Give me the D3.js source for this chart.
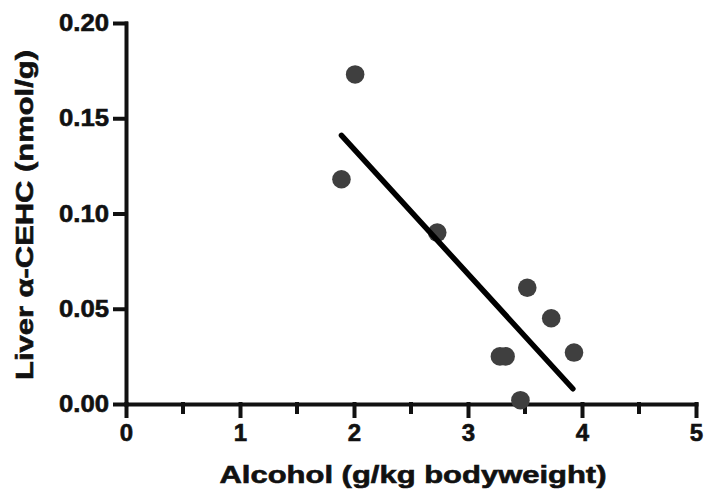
<!DOCTYPE html>
<html>
<head>
<meta charset="utf-8">
<script src="https://cdn.jsdelivr.net/npm/d3@7"></script>
<style>
  body { margin: 0; background: #fff; }
  text { font-family: "Liberation Sans", Arial, sans-serif; font-weight: bold; fill: #111; stroke: #111; stroke-width: 0.6px; }
</style>
</head>
<body>
<div id="chart"></div>
<script>
// data
const alcohol = [1.89, 2.01, 2.73, 3.28, 3.33, 3.46, 3.52, 3.73, 3.93];
const cehc = [0.118, 0.173, 0.090, 0.025, 0.025, 0.002, 0.061, 0.045, 0.027];
const fitX = [1.89, 3.92];
const fitY = [0.141, 0.008];
const xTicks = [0, 1, 2, 3, 4, 5];
const xMinor = [0.5, 1.5, 2.5, 3.5, 4.5];
const yTicks = [0, 0.05, 0.10, 0.15, 0.20];

const w = 715, h = 502;
const margin = { top: 23, right: 19, bottom: 98, left: 126 };

const svg = d3.select('#chart')
    .append('svg')
    .attr('width', w)
    .attr('height', h);

const x = d3.scaleLinear()
    .domain([0, 5])
    .range([margin.left, w - margin.right]);

const y = d3.scaleLinear()
    .domain([0, 0.2])
    .range([h - margin.bottom, margin.top]);

// x axis
const xAxis = svg.append('g')
    .attr('transform', `translate(0,${y(0)})`)
    .call(d3.axisBottom(x).tickValues(xTicks).tickFormat(d3.format('d')).tickSize(12).tickPadding(8).tickSizeOuter(0));

xAxis.append('g').selectAll('line')
    .data(xMinor)
    .enter()
    .append('line')
    .attr('x1', d => x(d))
    .attr('x2', d => x(d))
    .attr('y1', 0)
    .attr('y2', 8);

// y axis
const yAxis = svg.append('g')
    .attr('transform', `translate(${x(0)},0)`)
    .call(d3.axisLeft(y).tickValues(yTicks).tickFormat(d3.format('.2f')).tickSize(11).tickPadding(6).tickSizeOuter(0));

svg.selectAll('.domain, .tick line, g line')
    .attr('stroke', '#111')
    .attr('stroke-width', 4)
    .attr('stroke-linecap', 'square');

svg.selectAll('.tick text')
    .attr('font-size', 24)
    .attr('font-family', null);

yAxis.selectAll('.tick text')
    .attr('textLength', 50)
    .attr('lengthAdjust', 'spacingAndGlyphs');

// points
svg.append('g').selectAll('circle')
    .data(alcohol)
    .enter()
    .append('circle')
    .attr('cx', d => x(d))
    .attr('cy', (d, i) => y(cehc[i]))
    .attr('r', 9.3)
    .attr('fill', '#3f3f3f');

// regression line
svg.append('line')
    .attr('x1', x(fitX[0]))
    .attr('y1', y(fitY[0]))
    .attr('x2', x(fitX[1]))
    .attr('y2', y(fitY[1]))
    .attr('stroke', '#000')
    .attr('stroke-width', 5.5)
    .attr('stroke-linecap', 'round');

// axis titles
svg.append('text')
    .attr('x', 413)
    .attr('y', 483)
    .attr('text-anchor', 'middle')
    .attr('textLength', 387)
    .attr('lengthAdjust', 'spacingAndGlyphs')
    .style('font-size', '24px')
    .text('Alcohol (g/kg bodyweight)');

svg.append('text')
    .attr('transform', `translate(33,215) rotate(-90)`)
    .attr('text-anchor', 'middle')
    .attr('textLength', 330)
    .attr('lengthAdjust', 'spacingAndGlyphs')
    .style('font-size', '24px')
    .text('Liver α-CEHC (nmol/g)');
</script>
</body>
</html>
